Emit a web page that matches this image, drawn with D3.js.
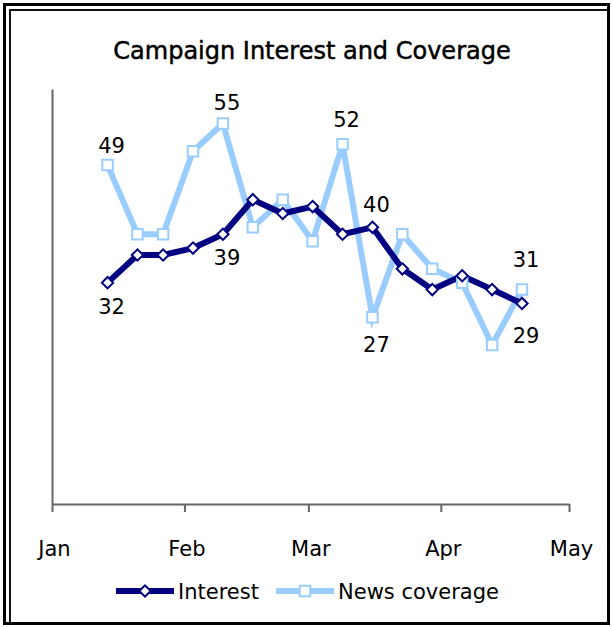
<!DOCTYPE html>
<html>
<head>
<meta charset="utf-8">
<script src="https://cdn.jsdelivr.net/npm/d3@7"></script>
<style>
  body { margin: 0; background: #fff; }
  text { font-family: "DejaVu Sans", sans-serif; fill: #000; }
</style>
</head>
<body>
<div id="chart"></div>
<script>
// weekly survey points (2008)
const dates = ["2008-01-14","2008-01-21","2008-01-27","2008-02-03","2008-02-10","2008-02-17","2008-02-24",
  "2008-03-02","2008-03-09","2008-03-16","2008-03-23","2008-03-30","2008-04-06","2008-04-13","2008-04-20"];
const interest = [32, 36, 36, 37, 39, 44, 42, 43, 39, 40, 34, 31, 33, 31, 29];
const news = [49, 39, 39, 51, 55, 40, 44, 38, 52, 27, 39, 34, 32, 23, 31];
const monthTicks = ["2008-01-01","2008-02-01","2008-03-01","2008-04-01","2008-05-01"];
const monthLabels = ["Jan","Feb","Mar","Apr","May"];
const seriesNames = ["Interest", "News coverage"];

// which points carry a value label, and where
const interestLabels = [{i: 0, dy: 24}, {i: 4, dy: 23}, {i: 9, dy: -23}, {i: 14, dy: 32}];
const newsLabels = [{i: 0, dy: -20}, {i: 4, dy: -21}, {i: 8, dy: -25}, {i: 9, dy: 27}, {i: 14, dy: -30}];

const width = 613, height = 627;
const navy = "#000080", light = "#99ccff";

const parse = d3.utcParse("%Y-%m-%d");
const pts = dates.map((d, i) => ({date: parse(d), interest: interest[i], news: news[i]}));

const x = d3.scaleUtc()
  .domain([parse(monthTicks[0]), parse(monthTicks[4])])
  .range([52, 569]);
const y = d3.scaleLinear()
  .domain([0, 60])
  .range([504, 89]);

const svg = d3.select('#chart')
  .append('svg')
  .attr('width', width)
  .attr('height', height);

// frame
svg.append('rect')
  .attr('x', 4.5).attr('y', 4.5)
  .attr('width', width - 9).attr('height', height - 8)
  .attr('fill', 'none').attr('stroke', '#000').attr('stroke-width', 3);
svg.append('path')
  .attr('d', `M10,${height - 5} V10 H${width - 5}`)
  .attr('fill', 'none').attr('stroke', '#111').attr('stroke-width', 2);

svg.append('text')
  .attr('x', 312)
  .attr('y', 59)
  .attr('text-anchor', 'middle')
  .style('font-size', '24px')
  .style('stroke', '#000').style('stroke-width', 0.5)
  .text('Campaign Interest and Coverage');

// axes
const xAxis = d3.axisBottom(x)
  .tickValues(monthTicks.map(parse))
  .tickFormat((d, i) => monthLabels[i])
  .tickSize(8)
  .tickSizeOuter(0)
  .tickPadding(29);

const gx = svg.append('g')
  .attr('transform', `translate(0, ${y(0)})`)
  .call(xAxis);
gx.selectAll('text').style('font-size', '21px').attr('fill', '#000').attr('dx', 2);

const gy = svg.append('g')
  .attr('transform', `translate(${x.range()[0]}, 0)`)
  .call(d3.axisLeft(y).ticks(0).tickSizeOuter(0));

[gx, gy].forEach(g => {
  g.select('.domain').attr('stroke', '#666').attr('stroke-width', 2);
  g.selectAll('.tick line').attr('stroke', '#666').attr('stroke-width', 2);
});

// lines
const line = key => d3.line().x(d => x(d.date)).y(d => y(d[key]));

svg.append('path')
  .datum(pts)
  .attr('d', line('news'))
  .attr('fill', 'none').attr('stroke', light).attr('stroke-width', 6)
  .attr('stroke-linejoin', 'miter');

svg.append('path')
  .datum(pts)
  .attr('d', line('interest'))
  .attr('fill', 'none').attr('stroke', navy).attr('stroke-width', 6)
  .attr('stroke-linejoin', 'miter');

const diamond = d3.symbol().type(d3.symbolSquare).size(64);
const square = d3.symbol().type(d3.symbolSquare).size(110);

svg.selectAll('.nmark')
  .data(pts)
  .enter()
  .append('path')
  .attr('class', 'nmark')
  .attr('d', square)
  .attr('transform', d => `translate(${x(d.date)}, ${y(d.news)})`)
  .attr('fill', '#fff').attr('stroke', light).attr('stroke-width', 2);

svg.selectAll('.imark')
  .data(pts)
  .enter()
  .append('path')
  .attr('class', 'imark')
  .attr('d', diamond)
  .attr('transform', d => `translate(${x(d.date)}, ${y(d.interest)}) rotate(45)`)
  .attr('fill', '#fff').attr('stroke', navy).attr('stroke-width', 2);

// value labels
const addLabels = (list, key) => {
  svg.selectAll('.lbl-' + key)
    .data(list)
    .enter()
    .append('text')
    .attr('class', 'lbl-' + key)
    .attr('x', d => x(pts[d.i].date) + 4)
    .attr('y', d => y(pts[d.i][key]) + d.dy)
    .attr('dy', '0.36em')
    .attr('text-anchor', 'middle')
    .style('font-size', '21px')
    .text(d => pts[d.i][key]);
};
addLabels(interestLabels, 'interest');
addLabels(newsLabels, 'news');

// legend
const legend = svg.append('g').attr('transform', 'translate(0, 591)');
const items = [
  {name: seriesNames[0], x0: 116, color: navy, sym: diamond, rot: 45, w: 58},
  {name: seriesNames[1], x0: 276, color: light, sym: square, rot: 0, w: 58}
];
items.forEach(it => {
  legend.append('line')
    .attr('x1', it.x0).attr('x2', it.x0 + it.w)
    .attr('stroke', it.color).attr('stroke-width', 6);
  legend.append('path')
    .attr('d', it.sym)
    .attr('transform', `translate(${it.x0 + it.w / 2}, 0) rotate(${it.rot})`)
    .attr('fill', '#fff').attr('stroke', it.color).attr('stroke-width', 2);
  legend.append('text')
    .attr('x', it.x0 + it.w + 4)
    .attr('dy', '0.36em')
    .style('font-size', '21px')
    .text(it.name);
});
</script>
</body>
</html>
